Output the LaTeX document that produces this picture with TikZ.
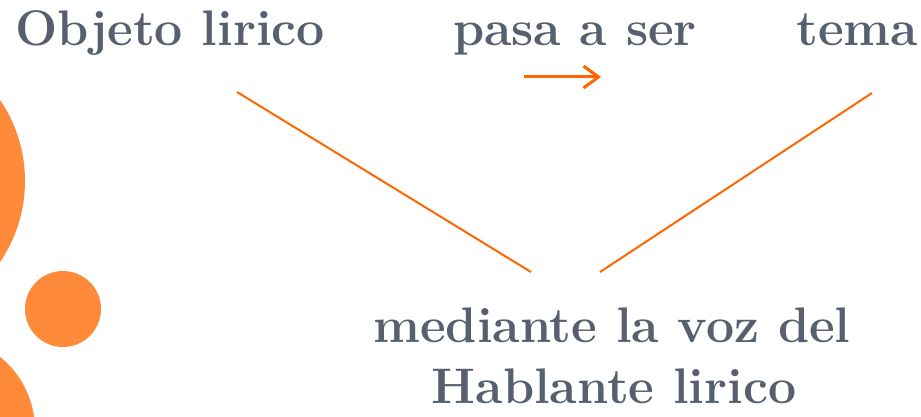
\documentclass[tikz,border=0pt]{standalone}
\usepackage{tikz}
\usetikzlibrary{arrows.meta}

\definecolor{slate}{RGB}{88,96,112}
\definecolor{lineorange}{RGB}{255,102,0}
\definecolor{dotorange}{RGB}{255,138,58}

\tikzset{
  word/.style={text=slate,font=\fontsize{50}{56}\selectfont\bfseries,inner sep=0pt,anchor=base},
  link/.style={lineorange,line width=2pt}
}

\begin{document}
\begin{tikzpicture}[x=1pt,y=-1pt]
			\useasboundingbox (0,0) rectangle (921,417);
			\clip (0,0) rectangle (921,417);
			\fill[dotorange] (-119,181) circle (144);
			\fill[dotorange] (63,309) circle (38);
			\fill[dotorange] (-59,430) circle (94);
			\node[word] (objeto) at (170,46) {Objeto lirico};
			\node[word] (pasa) at (575,46) {pasa a ser};
			\node[word] (tema) at (857,46) {tema};
			\node[word] (mediante) at (612,342) {mediante la voz del};
			\node[word] (hablante) at (614,403) {Hablante lirico};
			\coordinate (a1) at (524,77);
			\coordinate (a2) at (601,77);
			\coordinate (l1) at (237,92);
			\coordinate (l2) at (531,272);
			\coordinate (r1) at (872,93);
			\coordinate (r2) at (600,272);
			\draw[link,line width=3pt,-{Straight Barb[length=15pt,width=22pt]}] (a1) -- (a2);
			\draw[link] (l1) -- (l2);
			\draw[link] (r1) -- (r2);
		\end{tikzpicture}
\end{document}
